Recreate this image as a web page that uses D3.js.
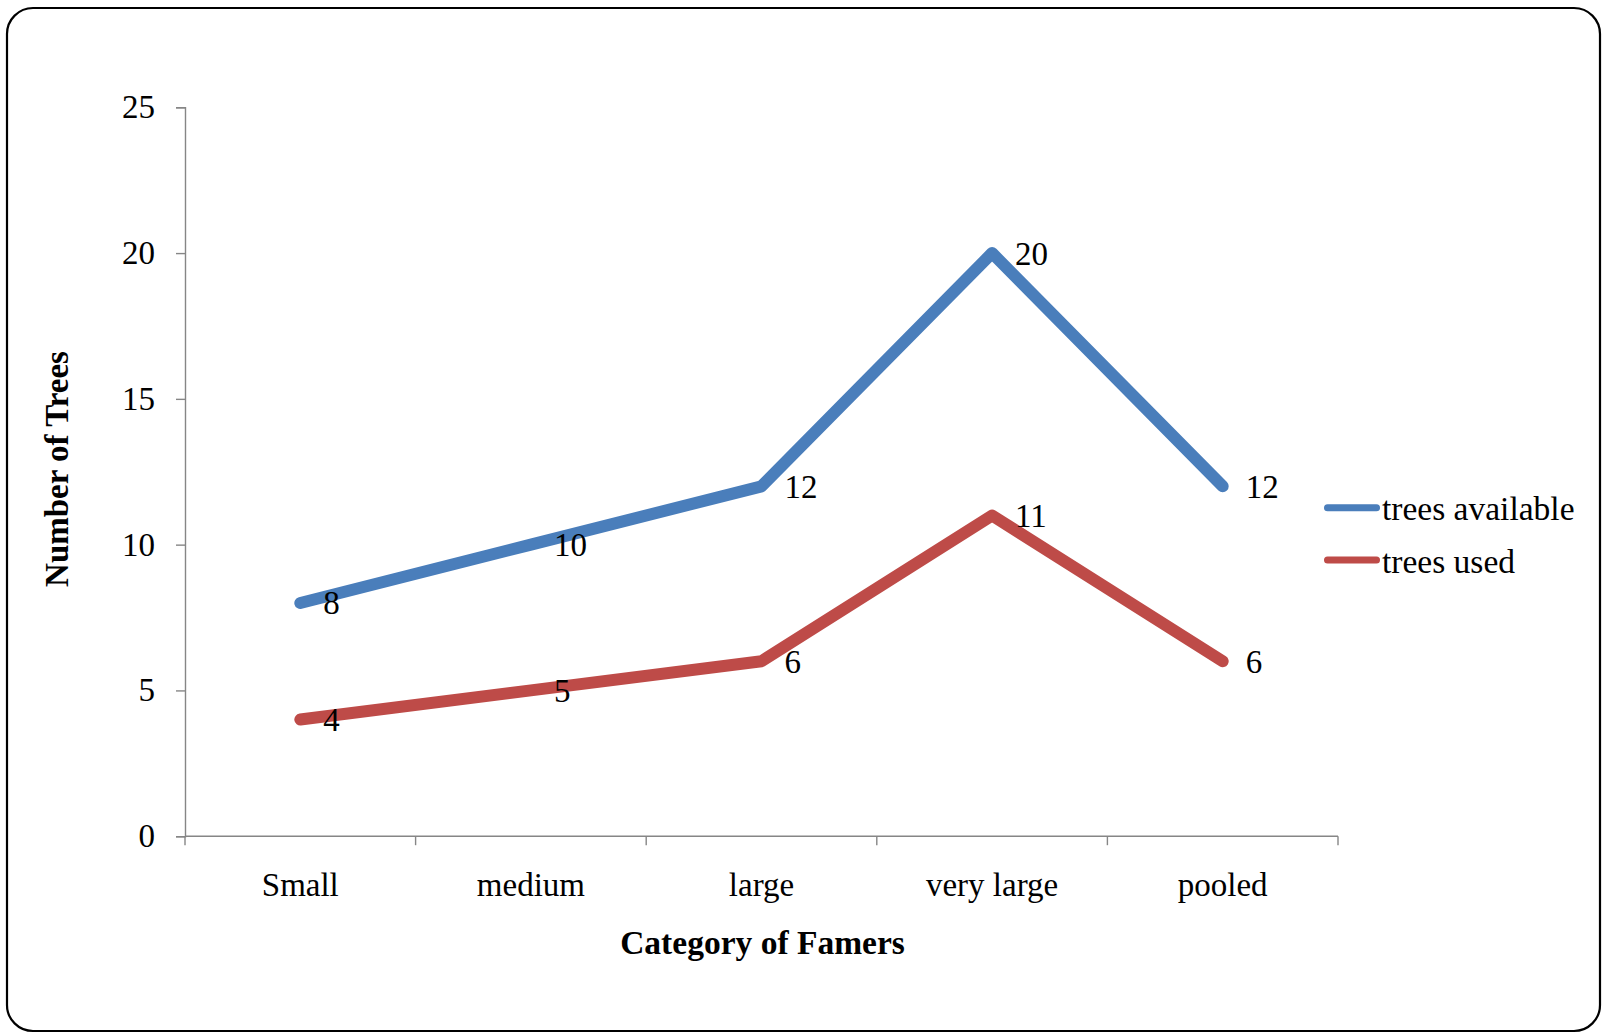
<!DOCTYPE html>
<html>
<head>
<meta charset="utf-8">
<script src="https://cdn.jsdelivr.net/npm/d3@7"></script>
<style>
  html, body { margin: 0; padding: 0; background: #fff; }
  svg { display: block; }
  text { font-family: "Liberation Serif", "Times New Roman", serif; fill: #000; }
</style>
</head>
<body>
<svg id="chart" width="1603" height="1033"></svg>
<script>
// Farmer categories and tree counts
const categories = ["Small", "medium", "large", "very large", "pooled"];
const treesAvailable = [8, 10, 12, 20, 12];
const treesUsed = [4, 5, 6, 11, 6];
const yTicks = [0, 5, 10, 15, 20, 25];
const seriesNames = ["trees available", "trees used"];
const seriesColors = ["#4A7EBB", "#BE4B48"];

const svg = d3.select("#chart");

// Rounded frame around the chart area
svg.append("rect")
  .attr("x", 7).attr("y", 8)
  .attr("width", 1593).attr("height", 1023)
  .attr("rx", 26).attr("ry", 26)
  .attr("fill", "#fff")
  .attr("stroke", "#000")
  .attr("stroke-width", 2.2);

const plot = { left: 185, right: 1338, top: 107.3, bottom: 836.2 };

const x = d3.scaleBand().domain(categories).range([plot.left, plot.right]);
const y = d3.scaleLinear().domain([0, 25]).range([plot.bottom, plot.top]);
const cx = c => x(c) + x.bandwidth() / 2;

const axisColor = "#868686";

// Y axis
const yAxis = svg.append("g")
  .attr("transform", `translate(${plot.left},0)`)
  .call(d3.axisLeft(y).tickValues(yTicks).tickSize(9).tickPadding(21).tickFormat(d3.format("d")));
yAxis.select(".domain").attr("stroke", axisColor).attr("stroke-width", 1.4);
yAxis.selectAll(".tick line").attr("stroke", axisColor).attr("stroke-width", 1.4);
yAxis.selectAll(".tick text")
  .attr("font-size", 33)
  .attr("font-family", "Liberation Serif, Times New Roman, serif")
  .attr("fill", "#000");

// X axis: ticks on category boundaries, labels centred in each band
const boundaries = d3.range(categories.length + 1).map(i => plot.left + i * x.bandwidth());
const xAxis = svg.append("g");
xAxis.append("line")
  .attr("x1", plot.left).attr("x2", plot.right)
  .attr("y1", plot.bottom).attr("y2", plot.bottom)
  .attr("stroke", axisColor).attr("stroke-width", 1.4);
xAxis.selectAll("line.tick").data(boundaries).join("line")
  .attr("class", "tick")
  .attr("x1", d => d).attr("x2", d => d)
  .attr("y1", plot.bottom).attr("y2", plot.bottom + 9)
  .attr("stroke", axisColor).attr("stroke-width", 1.4);
xAxis.selectAll("text").data(categories).join("text")
  .attr("x", d => cx(d))
  .attr("y", 896)
  .attr("text-anchor", "middle")
  .attr("font-size", 33)
  .text(d => d);

// Axis titles
svg.append("text")
  .attr("x", 762.5).attr("y", 954)
  .attr("text-anchor", "middle")
  .attr("font-size", 33.5)
  .attr("font-weight", "bold")
  .text("Category of Famers");

svg.append("text")
  .attr("transform", "translate(68,469) rotate(-90)")
  .attr("text-anchor", "middle")
  .attr("font-size", 33)
  .attr("font-weight", "bold")
  .text("Number of Trees");

// Lines
const series = [treesAvailable, treesUsed];
const line = d3.line()
  .x((d, i) => cx(categories[i]))
  .y(d => y(d));

series.forEach((vals, s) => {
  svg.append("path")
    .datum(vals)
    .attr("d", line)
    .attr("fill", "none")
    .attr("stroke", seriesColors[s])
    .attr("stroke-width", 12)
    .attr("stroke-linecap", "round")
    .attr("stroke-linejoin", "round");
});

// Data labels to the right of each point
series.forEach((vals, s) => {
  svg.append("g").selectAll("text").data(vals).join("text")
    .attr("x", (d, i) => cx(categories[i]) + 23)
    .attr("y", d => y(d) + 11.5)
    .attr("font-size", 33)
    .text(d => d);
});

// Legend
const legend = svg.append("g");
seriesNames.forEach((name, i) => {
  const ly = 507.7 + i * 52.3;
  legend.append("line")
    .attr("x1", 1327.5).attr("x2", 1376.5)
    .attr("y1", ly).attr("y2", ly)
    .attr("stroke", seriesColors[i])
    .attr("stroke-width", 7)
    .attr("stroke-linecap", "round");
  legend.append("text")
    .attr("x", 1382).attr("y", ly + 12.5)
    .attr("font-size", 33.5)
    .text(name);
});
</script>
</body>
</html>
